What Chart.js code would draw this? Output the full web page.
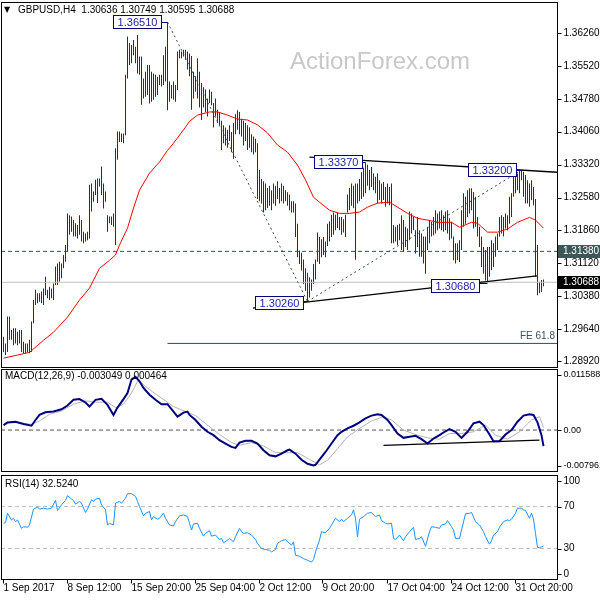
<!DOCTYPE html>
<html><head><meta charset="utf-8">
<script src="https://cdn.jsdelivr.net/npm/chart.js@4.4.1/dist/chart.umd.min.js"></script>
<style>
html,body{margin:0;padding:0;background:#fff;}
#wrap{position:relative;width:600px;height:600px;overflow:hidden;background:#fff;}
canvas{position:absolute;left:0;}
</style></head><body>
<div id="wrap">
<canvas id="cMain" width="600" height="369" style="top:0px"></canvas>
<canvas id="cMacd" width="600" height="103" style="top:369px"></canvas>
<canvas id="cRsi" width="600" height="126" style="top:474px"></canvas>
</div>
<script>
// ---------------- DATA ----------------
const symbolTitle = 'GBPUSD,H4  1.30636 1.30749 1.30595 1.30688';
const xLabels = ['1 Sep 2017','8 Sep 12:00','15 Sep 20:00','25 Sep 04:00','2 Oct 12:00','9 Oct 20:00','17 Oct 04:00','24 Oct 12:00','31 Oct 20:00'];
const xLabelBars = [0,32,64,96,128,160,192,224,256];

const highs = [
1.2947,1.2932,1.2992,1.2992,1.2962,1.2966,1.2966,1.2958,1.2962,1.2962,
1.2936,1.2932,1.2932,1.2940,1.2981,1.3029,1.3052,1.3044,1.3044,1.3048,
1.3055,1.3081,1.3052,1.3059,1.3055,1.3066,1.3104,1.3111,1.3115,1.3111,
1.3130,1.3152,1.3223,1.3219,1.3216,1.3208,1.3201,1.3197,1.3219,1.3208,
1.3182,1.3178,1.3182,1.3287,1.3290,1.3272,1.3298,1.3301,1.3301,1.3328,
1.3290,1.3272,1.3219,1.3216,1.3216,1.3223,1.3369,1.3406,1.3406,1.3402,
1.3402,1.3533,1.3619,1.3604,1.3600,1.3611,1.3596,1.3622,1.3574,1.3574,
1.3525,1.3540,1.3555,1.3555,1.3540,1.3536,1.3533,1.3529,1.3533,1.3533,
1.3577,1.3596,1.3651,1.3518,1.3510,1.3518,1.3510,1.3585,1.3589,1.3585,
1.3589,1.3589,1.3585,1.3581,1.3575,1.3540,1.3530,1.3570,1.3540,1.3515,
1.3505,1.3500,1.3480,1.3500,1.3495,1.3470,1.3480,1.3455,1.3450,1.3430,
1.3420,1.3415,1.3410,1.3420,1.3405,1.3425,1.3445,1.3454,1.3450,1.3435,
1.3430,1.3425,1.3420,1.3415,1.3400,1.3395,1.3390,1.3380,1.3320,1.3300,
1.3295,1.3290,1.3280,1.3285,1.3275,1.3290,1.3285,1.3295,1.3280,1.3290,
1.3285,1.3275,1.3270,1.3265,1.3250,1.3250,1.3245,1.3200,1.3140,1.3135,
1.3120,1.3100,1.3090,1.3080,1.3075,1.3110,1.3120,1.3180,1.3170,1.3165,
1.3170,1.3160,1.3200,1.3205,1.3220,1.3225,1.3220,1.3225,1.3215,1.3215,
1.3210,1.3220,1.3265,1.3280,1.3290,1.3285,1.3290,1.3290,1.3300,1.3315,
1.3325,1.3337,1.3332,1.3320,1.3327,1.3312,1.3305,1.3312,1.3297,1.3290,
1.3293,1.3282,1.3290,1.3282,1.3290,1.3197,1.3193,1.3197,1.3200,1.3219,
1.3208,1.3193,1.3189,1.3227,1.3223,1.3215,1.3185,1.3215,1.3185,1.3178,
1.3171,1.3171,1.3193,1.3208,1.3204,1.3215,1.3230,1.3223,1.3227,1.3230,
1.3219,1.3227,1.3230,1.3212,1.3204,1.3171,1.3156,1.3156,1.3163,1.3230,
1.3268,1.3260,1.3275,1.3279,1.3279,1.3271,1.3260,1.3215,1.3193,1.3171,
1.3148,1.3141,1.3148,1.3148,1.3163,1.3156,1.3171,1.3178,1.3215,1.3219,
1.3215,1.3223,1.3219,1.3260,1.3268,1.3312,1.3305,1.3312,1.3320,1.3320,
1.3316,1.3309,1.3297,1.3290,1.3297,1.3282,1.3255,1.3152,1.3070,1.3074,
1.3075];
const lows = [
1.2913,1.2906,1.2913,1.2940,1.2940,1.2928,1.2932,1.2928,1.2932,1.2913,
1.2910,1.2910,1.2913,1.2910,1.2913,1.2977,1.3018,1.3022,1.3025,1.3022,
1.3018,1.3040,1.3033,1.3029,1.3033,1.3029,1.3063,1.3063,1.3070,1.3078,
1.3100,1.3115,1.3137,1.3175,1.3182,1.3171,1.3171,1.3167,1.3175,1.3160,
1.3156,1.3160,1.3163,1.3167,1.3227,1.3249,1.3264,1.3246,1.3283,1.3264,
1.3234,1.3249,1.3182,1.3201,1.3197,1.3193,1.3152,1.3343,1.3383,1.3383,
1.3380,1.3398,1.3525,1.3555,1.3559,1.3577,1.3559,1.3536,1.3533,1.3466,
1.3480,1.3484,1.3488,1.3469,1.3473,1.3477,1.3484,1.3488,1.3510,1.3507,
1.3510,1.3518,1.3454,1.3473,1.3480,1.3477,1.3473,1.3499,1.3570,1.3570,
1.3574,1.3567,1.3545,1.3530,1.3455,1.3480,1.3495,1.3480,1.3460,1.3432,
1.3460,1.3450,1.3440,1.3470,1.3465,1.3415,1.3440,1.3425,1.3420,1.3365,
1.3380,1.3375,1.3370,1.3385,1.3360,1.3345,1.3400,1.3410,1.3400,1.3395,
1.3375,1.3385,1.3365,1.3370,1.3360,1.3355,1.3360,1.3255,1.3250,1.3245,
1.3225,1.3230,1.3235,1.3240,1.3230,1.3245,1.3240,1.3255,1.3245,1.3250,
1.3245,1.3250,1.3240,1.3230,1.3225,1.3225,1.3170,1.3125,1.3110,1.3095,
1.3065,1.3050,1.3026,1.3035,1.3050,1.3065,1.3075,1.3115,1.3110,1.3125,
1.3130,1.3125,1.3150,1.3160,1.3170,1.3175,1.3185,1.3190,1.3185,1.3175,
1.3180,1.3170,1.3225,1.3230,1.3240,1.3235,1.3119,1.3245,1.3250,1.3255,
1.3260,1.3268,1.3285,1.3275,1.3282,1.3275,1.3268,1.3245,1.3253,1.3245,
1.3253,1.3238,1.3245,1.3241,1.3156,1.3156,1.3160,1.3152,1.3163,1.3141,
1.3137,1.3148,1.3141,1.3163,1.3178,1.3185,1.3133,1.3148,1.3126,1.3126,
1.3111,1.3088,1.3141,1.3156,1.3171,1.3174,1.3178,1.3185,1.3189,1.3185,
1.3182,1.3185,1.3178,1.3163,1.3167,1.3118,1.3111,1.3118,1.3114,1.3141,
1.3193,1.3200,1.3215,1.3223,1.3230,1.3189,1.3193,1.3171,1.3148,1.3103,
1.3088,1.3073,1.3070,1.3081,1.3096,1.3103,1.3126,1.3141,1.3171,1.3178,
1.3171,1.3189,1.3185,1.3200,1.3215,1.3260,1.3268,1.3275,1.3268,1.3297,
1.3260,1.3245,1.3245,1.3238,1.3253,1.3241,1.3081,1.3040,1.3044,1.3047,
1.3060];

// moving average (red) read at bar positions
const maBar = [0,7,13,20,25,32,38,43,48,53,56,58,62,65,68,73,78,82,85,91,93,97,103,107,112,117,122,127,132,137,142,147,151,155,158,163,168,173,178,182,187,193,197,202,207,212,217,224,228,234,237,242,247,252,257,263,266,270];
const maVal = [1.2899,1.2906,1.2912,1.2939,1.2957,1.2991,1.3029,1.3056,1.3100,1.3118,1.3130,1.3152,1.3190,1.3235,1.3275,1.3313,1.3338,1.3364,1.3380,1.3416,1.3429,1.3443,1.3450,1.3450,1.3443,1.3434,1.3432,1.3421,1.3403,1.3376,1.3360,1.3331,1.3298,1.3259,1.3248,1.3230,1.3223,1.3223,1.3226,1.3237,1.3246,1.3248,1.3237,1.3223,1.3212,1.3208,1.3203,1.3203,1.3192,1.3203,1.3201,1.3181,1.3181,1.3188,1.3203,1.3214,1.3208,1.3190];

const priceTicks = ['1.36260','1.35520','1.34780','1.34060','1.33320','1.32580','1.31860','1.31120','1.30380','1.29640','1.28920'];
const dashedLevel = 1.31380;
const lastPrice = 1.30688;
const feLevel = 1.2932, feStartBar = 82;
const upperTLBar = [153, 277], upperTLVal = [1.3349, 1.3315];
const lowerTLBar = [124.75, 266.75], lowerTLVal = [1.3011, 1.3083];
const dotABar = [82, 152], dotAVal = [1.3651, 1.3026];
const dotBBar = [152, 259], dotBVal = [1.3026, 1.3320];
const boxText = ['1.36510','1.33370','1.33200','1.30260','1.30680'];
const boxBar = [66.5, 167.25, 244, 137.5, 225.5];
const boxVal = [1.3653, 1.3339, 1.3321, 1.3023, 1.3062];
const boxTargetBar = [82, 181, 259, 152, 242];
const boxTargetVal = [1.3651, 1.3337, 1.3320, 1.3026, 1.3068];

// MACD
const macdTitle = 'MACD(12,26,9) -0.003049 0.000464';
const macdTicks = ['0.011588','0.00','-0.007961'];
const macdBar = [0,2,6,10,14,16,18,21,25,29,32,35,38,41,43,46,49,52,55,57,60,62,64,66,68,70,73,76,79,82,85,87,90,92,93,96,99,102,105,108,111,114,116,118,121,124,127,130,133,136,139,142,143,146,149,152,155,156,158,161,164,167,169,172,175,178,181,184,187,189,192,194,197,200,203,206,209,212,215,218,220,223,226,229,232,235,238,240,243,245,248,251,254,257,260,263,265,267,269,270];
const macdVal = [0.00095,0.00146,0.00159,0.00114,0.00082,0.00191,0.00287,0.00338,0.00351,0.00395,0.00466,0.00574,0.00587,0.00523,0.00446,0.00574,0.00593,0.00478,0.00287,0.00427,0.00587,0.00702,0.00958,0.01009,0.00926,0.00798,0.00670,0.00574,0.00491,0.00491,0.00351,0.00255,0.00331,0.00351,0.00287,0.00191,0.00063,-0.00033,-0.00097,-0.00193,-0.00256,-0.00320,-0.00339,-0.00237,-0.00205,-0.00205,-0.00256,-0.00384,-0.00480,-0.00499,-0.00448,-0.00384,-0.00371,-0.00448,-0.00563,-0.00640,-0.00672,-0.00659,-0.00563,-0.00416,-0.00256,-0.00097,-0.00033,0.00031,0.00082,0.00146,0.00223,0.00274,0.00299,0.00287,0.00191,0.00095,-0.00065,-0.00148,-0.00129,-0.00109,-0.00173,-0.00256,-0.00161,-0.00097,-0.00046,0.00018,-0.00033,-0.00148,-0.00033,0.00127,0.00159,0.00095,-0.00084,-0.00212,-0.00212,-0.00084,-0.00001,0.00159,0.00274,0.00299,0.00287,0.00146,-0.00097,-0.00305];
const sigBar = [0,6,14,18,23,29,35,41,46,52,56,60,64,67,69,73,79,85,91,96,102,108,114,118,124,130,136,142,147,153,158,162,167,172,178,184,190,194,200,206,212,218,223,229,235,241,246,252,258,264,268,270];
const sigVal = [0.00108,0.00146,0.00108,0.00172,0.00299,0.00363,0.00491,0.00555,0.00529,0.00529,0.00427,0.00491,0.00702,0.00926,0.00894,0.00766,0.00606,0.00446,0.00351,0.00274,0.00095,-0.00084,-0.00237,-0.00288,-0.00237,-0.00301,-0.00429,-0.00429,-0.00429,-0.00557,-0.00659,-0.00576,-0.00352,-0.00129,0.00031,0.00172,0.00255,0.00191,-0.00001,-0.00084,-0.00148,-0.00173,-0.00065,-0.00065,-0.00033,0.00095,-0.00097,-0.00173,-0.00033,0.00191,0.00255,0.00046];
const macdTLBar = [190, 268], macdTLVal = [-0.0029, -0.0019];

// RSI
const rsiTitle = 'RSI(14) 32.5240';
const rsiTicks = ['100','70','30','0'];
const rsiLevels = [70, 30];
const rsiBar = [0,1,2,4,5,6,7,9,10,12,13,15,17,18,20,22,24,26,27,29,31,32,34,35,36,38,39,41,42,44,45,46,48,49,51,52,53,55,56,58,59,61,62,64,66,67,68,70,71,73,74,75,77,78,80,81,83,85,86,88,90,92,93,94,95,97,98,100,101,103,104,106,108,109,110,112,113,115,116,118,119,120,122,124,126,127,129,131,133,134,136,137,139,141,142,144,145,146,148,150,152,154,155,156,158,159,161,163,164,166,168,169,170,172,174,175,176,177,178,180,182,184,186,188,189,191,192,194,195,196,198,200,201,203,205,206,208,209,211,213,214,216,218,219,221,222,224,225,226,228,229,231,233,234,236,238,240,241,243,244,245,247,248,250,252,253,254,256,257,259,260,261,263,264,265,266,267,268,269,270];
const rsiVal = [54.0,54.7,63.6,57.2,58.8,55.6,57.2,49.2,50.8,50.2,52.4,67.5,69.4,67.5,68.4,67.5,68.4,75.8,66.2,71.6,75.8,80.3,77.1,75.8,72.3,74.8,73.2,64.3,67.5,76.4,74.8,77.1,77.7,71.6,66.8,52.4,54.0,52.4,73.2,74.8,73.2,78.0,82.2,82.2,79.7,74.8,70.0,61.1,63.6,65.2,57.2,60.4,57.9,58.8,63.6,58.8,52.4,51.4,55.6,61.1,62.0,60.4,54.0,47.6,53.4,54.0,49.2,41.8,44.4,47.0,41.8,42.8,38.6,39.6,35.4,38.0,39.6,36.4,41.2,49.2,46.0,44.4,45.0,42.8,38.6,34.8,30.0,29.0,28.4,26.8,29.0,34.8,37.4,38.6,36.4,33.2,36.4,23.6,22.6,20.4,18.8,17.1,19.4,26.8,38.0,46.0,45.0,49.2,52.4,58.8,55.6,57.9,55.6,58.8,62.0,66.8,58.8,41.2,57.9,60.4,63.6,64.3,60.4,62.0,56.6,54.0,53.4,54.0,39.6,38.6,42.8,37.4,41.2,46.0,50.2,38.6,39.6,41.2,32.2,46.0,50.8,50.2,49.2,52.4,53.4,56.6,50.8,47.6,39.6,39.6,47.6,63.0,63.6,64.3,55.6,52.4,46.0,41.2,34.1,37.4,42.8,46.0,50.2,55.6,57.2,56.6,57.9,63.6,68.4,68.4,66.8,66.2,58.8,63.6,57.9,44.4,30.9,30.9,31.5,32.5];

// ---------------- RENDER ----------------
const X_MIN = -1.25, X_MAX = 276.75;
const FONT = '10px "Liberation Sans", Arial, sans-serif';
const SMALL_FONT = '9px "Liberation Sans", Arial, sans-serif';
const BAR_COLOR = '#0c3a54';
const pts = (xs, ys) => xs.map((x, i) => ({x: x, y: ys[i]}));
const hline = (v, x0) => [{x: x0 === undefined ? X_MIN : x0, y: v}, {x: X_MAX, y: v}];
const lineDs = (data, color, width, dash, order) => ({type: 'line', data, borderColor: color, borderWidth: width, borderDash: dash || [], pointRadius: 0, tension: 0, fill: false, order: order});

function baseOptions(padTop, padBottom, yMin, yMax) {
  return {
    responsive: false, animation: false, events: [], devicePixelRatio: 1,
    layout: {padding: {left: 1, right: 43, top: padTop, bottom: padBottom}},
    plugins: {legend: {display: false}, tooltip: {enabled: false}, title: {display: false}},
    scales: {
      x: {type: 'linear', min: X_MIN, max: X_MAX, display: false, offset: false},
      y: {type: 'linear', min: yMin, max: yMax, display: false}
    }
  };
}

function drawFrame(chart) {
  const {ctx, chartArea: a} = chart;
  const L = Math.round(a.left) + 0.5, R = Math.round(a.right) + 0.5;
  const T = Math.round(a.top) + 0.5, B = Math.round(a.bottom) - 0.5;
  ctx.save();
  ctx.strokeStyle = '#000'; ctx.lineWidth = 1; ctx.setLineDash([]);
  ctx.strokeRect(L, T, R - L, B - T);
  ctx.restore();
  return {L, R, T, B};
}
function drawYLabels(chart, texts, font) {
  const {ctx, chartArea: a, scales: {y}} = chart;
  const R = Math.round(a.right) + 0.5;
  ctx.save();
  ctx.font = font || FONT; ctx.fillStyle = '#000'; ctx.strokeStyle = '#000'; ctx.lineWidth = 1;
  ctx.textBaseline = 'middle'; ctx.textAlign = 'left';
  texts.forEach(t => {
    let py = y.getPixelForValue(parseFloat(t));
    py = Math.min(Math.max(py, a.top + 6), a.bottom - 6);
    const ty = Math.round(py) + 0.5;
    ctx.beginPath(); ctx.moveTo(R, ty); ctx.lineTo(R + 4, ty); ctx.stroke();
    ctx.fillText(t, R + 6, py);
  });
  ctx.restore();
}
function axisBox(chart, value, text, fill) {
  const {ctx, chartArea: a, scales: {y}} = chart;
  const py = Math.round(y.getPixelForValue(value));
  const R = Math.round(a.right) + 1;
  ctx.save();
  ctx.fillStyle = fill; ctx.fillRect(R, py - 6, 600 - R, 13);
  ctx.font = FONT; ctx.fillStyle = '#fff'; ctx.textBaseline = 'middle'; ctx.textAlign = 'left';
  ctx.fillText(text, R + 5, py + 0.5);
  ctx.restore();
}

// ----- main chart -----
const mainPlugin = {
  id: 'mainDecor',
  beforeDatasetsDraw(chart) {
    const {ctx} = chart;
    ctx.save();
    ctx.font = '24px "Liberation Sans", Arial, sans-serif';
    ctx.fillStyle = '#c8c8c8'; ctx.textBaseline = 'middle'; ctx.textAlign = 'left';
    ctx.fillText('ActionForex.com', 290, 62);
    ctx.restore();
  },
  afterDatasetsDraw(chart) {
    const {ctx, chartArea: a, scales: {x, y}} = chart;
    ctx.save();
    ctx.font = FONT; ctx.fillStyle = '#3a5060'; ctx.textAlign = 'right'; ctx.textBaseline = 'middle';
    ctx.fillText('FE 61.8', a.right - 2, y.getPixelForValue(feLevel) - 7);
    ctx.font = '11px "Liberation Sans", Arial, sans-serif';
    boxText.forEach((t, i) => {
      const cx = x.getPixelForValue(boxBar[i]);
      const cy = y.getPixelForValue(boxVal[i]);
      const w = Math.round(ctx.measureText(t).width) + 8, h = 13;
      const bx = Math.round(cx - w / 2) + 0.5, by = Math.round(cy - h / 2) + 0.5;
      const tx = x.getPixelForValue(boxTargetBar[i]);
      const ty = Math.round(y.getPixelForValue(boxTargetVal[i])) + 0.5;
      ctx.strokeStyle = '#000080'; ctx.lineWidth = 1;
      ctx.beginPath(); ctx.moveTo(bx + w, ty); ctx.lineTo(tx, ty); ctx.stroke();
      ctx.fillStyle = '#fff'; ctx.fillRect(bx, by, w, h);
      ctx.strokeRect(bx, by, w, h);
      ctx.fillStyle = '#2424a8'; ctx.textAlign = 'center'; ctx.textBaseline = 'middle';
      ctx.fillText(t, bx + w / 2, by + h / 2 + 0.5);
    });
    ctx.restore();
  },
  afterDraw(chart) {
    const {ctx} = chart;
    drawFrame(chart);
    drawYLabels(chart, priceTicks);
    axisBox(chart, dashedLevel, dashedLevel.toFixed(5), '#3b5757');
    axisBox(chart, lastPrice, lastPrice.toFixed(5), '#000');
    ctx.save();
    ctx.fillStyle = '#000'; ctx.textBaseline = 'middle'; ctx.textAlign = 'left';
    ctx.font = '8px "DejaVu Sans", sans-serif';
    ctx.fillText('\u25BC', 4, 10);
    ctx.font = FONT;
    ctx.fillText(symbolTitle, 18, 10);
    ctx.restore();
  }
};

const barData = highs.map((h, i) => ({x: i, y: [lows[i], h]}));
new Chart(document.getElementById('cMain'), {
  type: 'bar',
  data: {datasets: [
    lineDs(pts(upperTLBar, upperTLVal), '#000', 1.3, [], 1),
    lineDs(pts(lowerTLBar, lowerTLVal), '#000', 1.3, [], 1),
    lineDs(pts(dotABar, dotAVal), '#2f4f4f', 1, [2, 3], 1),
    lineDs(pts(dotBBar, dotBVal), '#2f4f4f', 1, [2, 3], 1),
    lineDs(hline(dashedLevel), '#2f4f4f', 1, [4, 3], 2),
    lineDs(hline(feLevel, feStartBar), '#2f4f4f', 1, [], 2),
    lineDs(hline(lastPrice), '#c0c0c0', 1, [], 8),
    lineDs(pts(maBar, maVal), '#ff0000', 1, [], 3),
    {type: 'bar', data: barData, backgroundColor: BAR_COLOR, borderWidth: 0, barThickness: 1, inflateAmount: 0, order: 10, grouped: false}
  ]},
  options: baseOptions(2, 1, 1.28770, 1.36960),
  plugins: [mainPlugin]
});

// ----- MACD -----
const macdPlugin = {
  id: 'macdDecor',
  afterDraw(chart) {
    const {ctx} = chart;
    drawFrame(chart);
    drawYLabels(chart, macdTicks, SMALL_FONT);
    ctx.save();
    ctx.font = FONT; ctx.fillStyle = '#000'; ctx.textBaseline = 'middle'; ctx.textAlign = 'left';
    ctx.fillText(macdTitle, 5, 7);
    ctx.restore();
  }
};
new Chart(document.getElementById('cMacd'), {
  type: 'line',
  data: {datasets: [
    lineDs(pts(macdTLBar, macdTLVal), '#000', 1.2, [], 1),
    lineDs(pts(macdBar, macdVal), '#000080', 2, [], 2),
    lineDs(pts(sigBar, sigVal), '#b4b4b4', 1, [], 3),
    lineDs(hline(0), '#555', 1, [4, 3], 4)
  ]},
  options: baseOptions(0, 0, parseFloat(macdTicks[2]), parseFloat(macdTicks[0])),
  plugins: [macdPlugin]
});

// ----- RSI -----
const rsiPlugin = {
  id: 'rsiDecor',
  afterDraw(chart) {
    const {ctx, scales: {x}} = chart;
    const f = drawFrame(chart);
    drawYLabels(chart, rsiTicks);
    ctx.save();
    ctx.font = FONT; ctx.fillStyle = '#000'; ctx.strokeStyle = '#000'; ctx.lineWidth = 1;
    ctx.textBaseline = 'middle'; ctx.textAlign = 'left';
    ctx.fillText(rsiTitle, 5, 10);
    xLabelBars.forEach((b, i) => {
      const px = Math.round(x.getPixelForValue(b)) - 0.5;
      ctx.beginPath(); ctx.moveTo(px, f.B); ctx.lineTo(px, f.B + 4); ctx.stroke();
      ctx.fillText(xLabels[i], px, f.B + 9);
    });
    ctx.restore();
  }
};
new Chart(document.getElementById('cRsi'), {
  type: 'line',
  data: {datasets: [
    lineDs(pts(rsiBar, rsiVal), '#1e90ff', 1, [], 1),
    lineDs(hline(rsiLevels[0]), '#c0c0c0', 1, [4, 3], 2),
    lineDs(hline(rsiLevels[1]), '#c0c0c0', 1, [4, 3], 2)
  ]},
  options: baseOptions(1, 20, 0, 100),
  plugins: [rsiPlugin]
});
</script>
</body></html>
